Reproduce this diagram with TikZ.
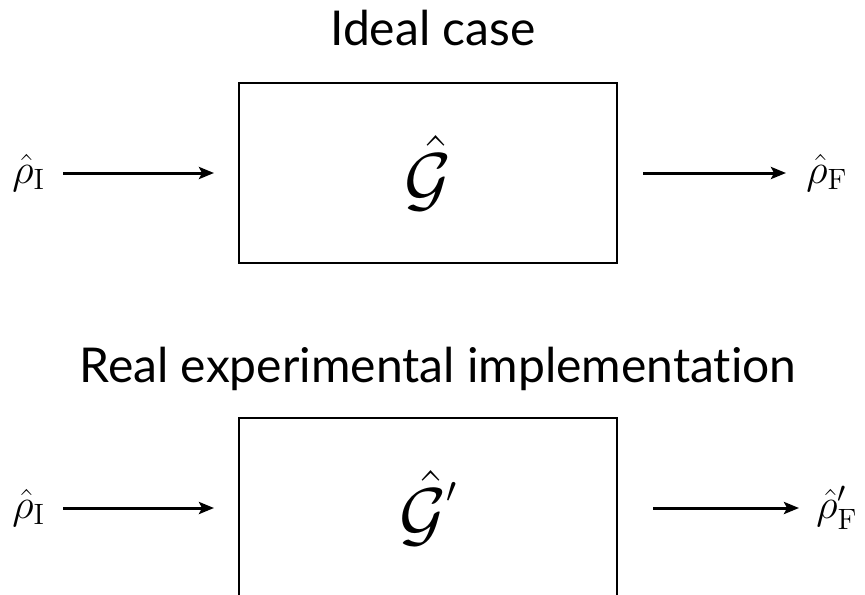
\RequirePackage{fix-cm}
\documentclass[tikz,border=0pt]{standalone}
\usepackage{amsmath,amssymb}
\usepackage{fontspec}
\newfontfamily\titlefont[Ligatures=NoCommon]{Lato}
\usetikzlibrary{positioning,arrows.meta}

\tikzset{
    gatebox/.style={draw,line width=1pt,minimum width=189pt,minimum height=90pt,inner sep=0pt,
        font=\fontsize{36}{40}\selectfont},
    statelab/.style={inner sep=2pt,font=\fontsize{21}{24}\selectfont},
    heading/.style={anchor=base,inner sep=0pt,font=\titlefont\fontsize{24}{28}\selectfont},
    flow/.style={-{Stealth[length=7.5pt,width=6pt,inset=1.5pt]},line width=1.5pt}
}

\begin{document}
\begin{tikzpicture}[x=0.5pt,y=-0.5pt]
        \useasboundingbox (0,0) rectangle (865,594);
        \clip (0,0) rectangle (865,594);
        % ideal case
        \node[heading] (ideal) at (433,45) {Ideal case};
        \node[gatebox] (gate) at (428,173) {$\hat{\mathcal{G}}$};
        \node[statelab,anchor=west] (rhoI) at (8,173) {$\hat{\rho}_{\mathrm{I}}$};
        \node[statelab,anchor=west] (rhoF) at (802,173) {$\hat{\rho}_{\mathrm{F}}$};
        \draw[flow,shorten <=7pt,shorten >=12pt] (rhoI) -- (gate);
        \draw[flow,shorten <=12.5pt,shorten >=8pt] (gate) -- (rhoF);
        % real implementation
        \node[heading] (real) at (438,382) {Real experimental implementation};
        \node[gatebox] (gatereal) at (428,508)
            {${\hat{\mathcal{G}}}^{\raisebox{5pt}{$\scriptscriptstyle\prime$}}$};
        \node[statelab,anchor=west] (rhoIreal) at (8,508) {$\hat{\rho}_{\mathrm{I}}$};
        \node[statelab,anchor=west] (rhoFreal) at (812,508) {${\hat{\rho}}'_{\mathrm{F}}$};
        \draw[flow,shorten <=7pt,shorten >=12pt] (rhoIreal) -- (gatereal);
        \draw[flow,shorten <=17.5pt,shorten >=6.5pt] (gatereal) -- (rhoFreal);
\end{tikzpicture}
\end{document}
